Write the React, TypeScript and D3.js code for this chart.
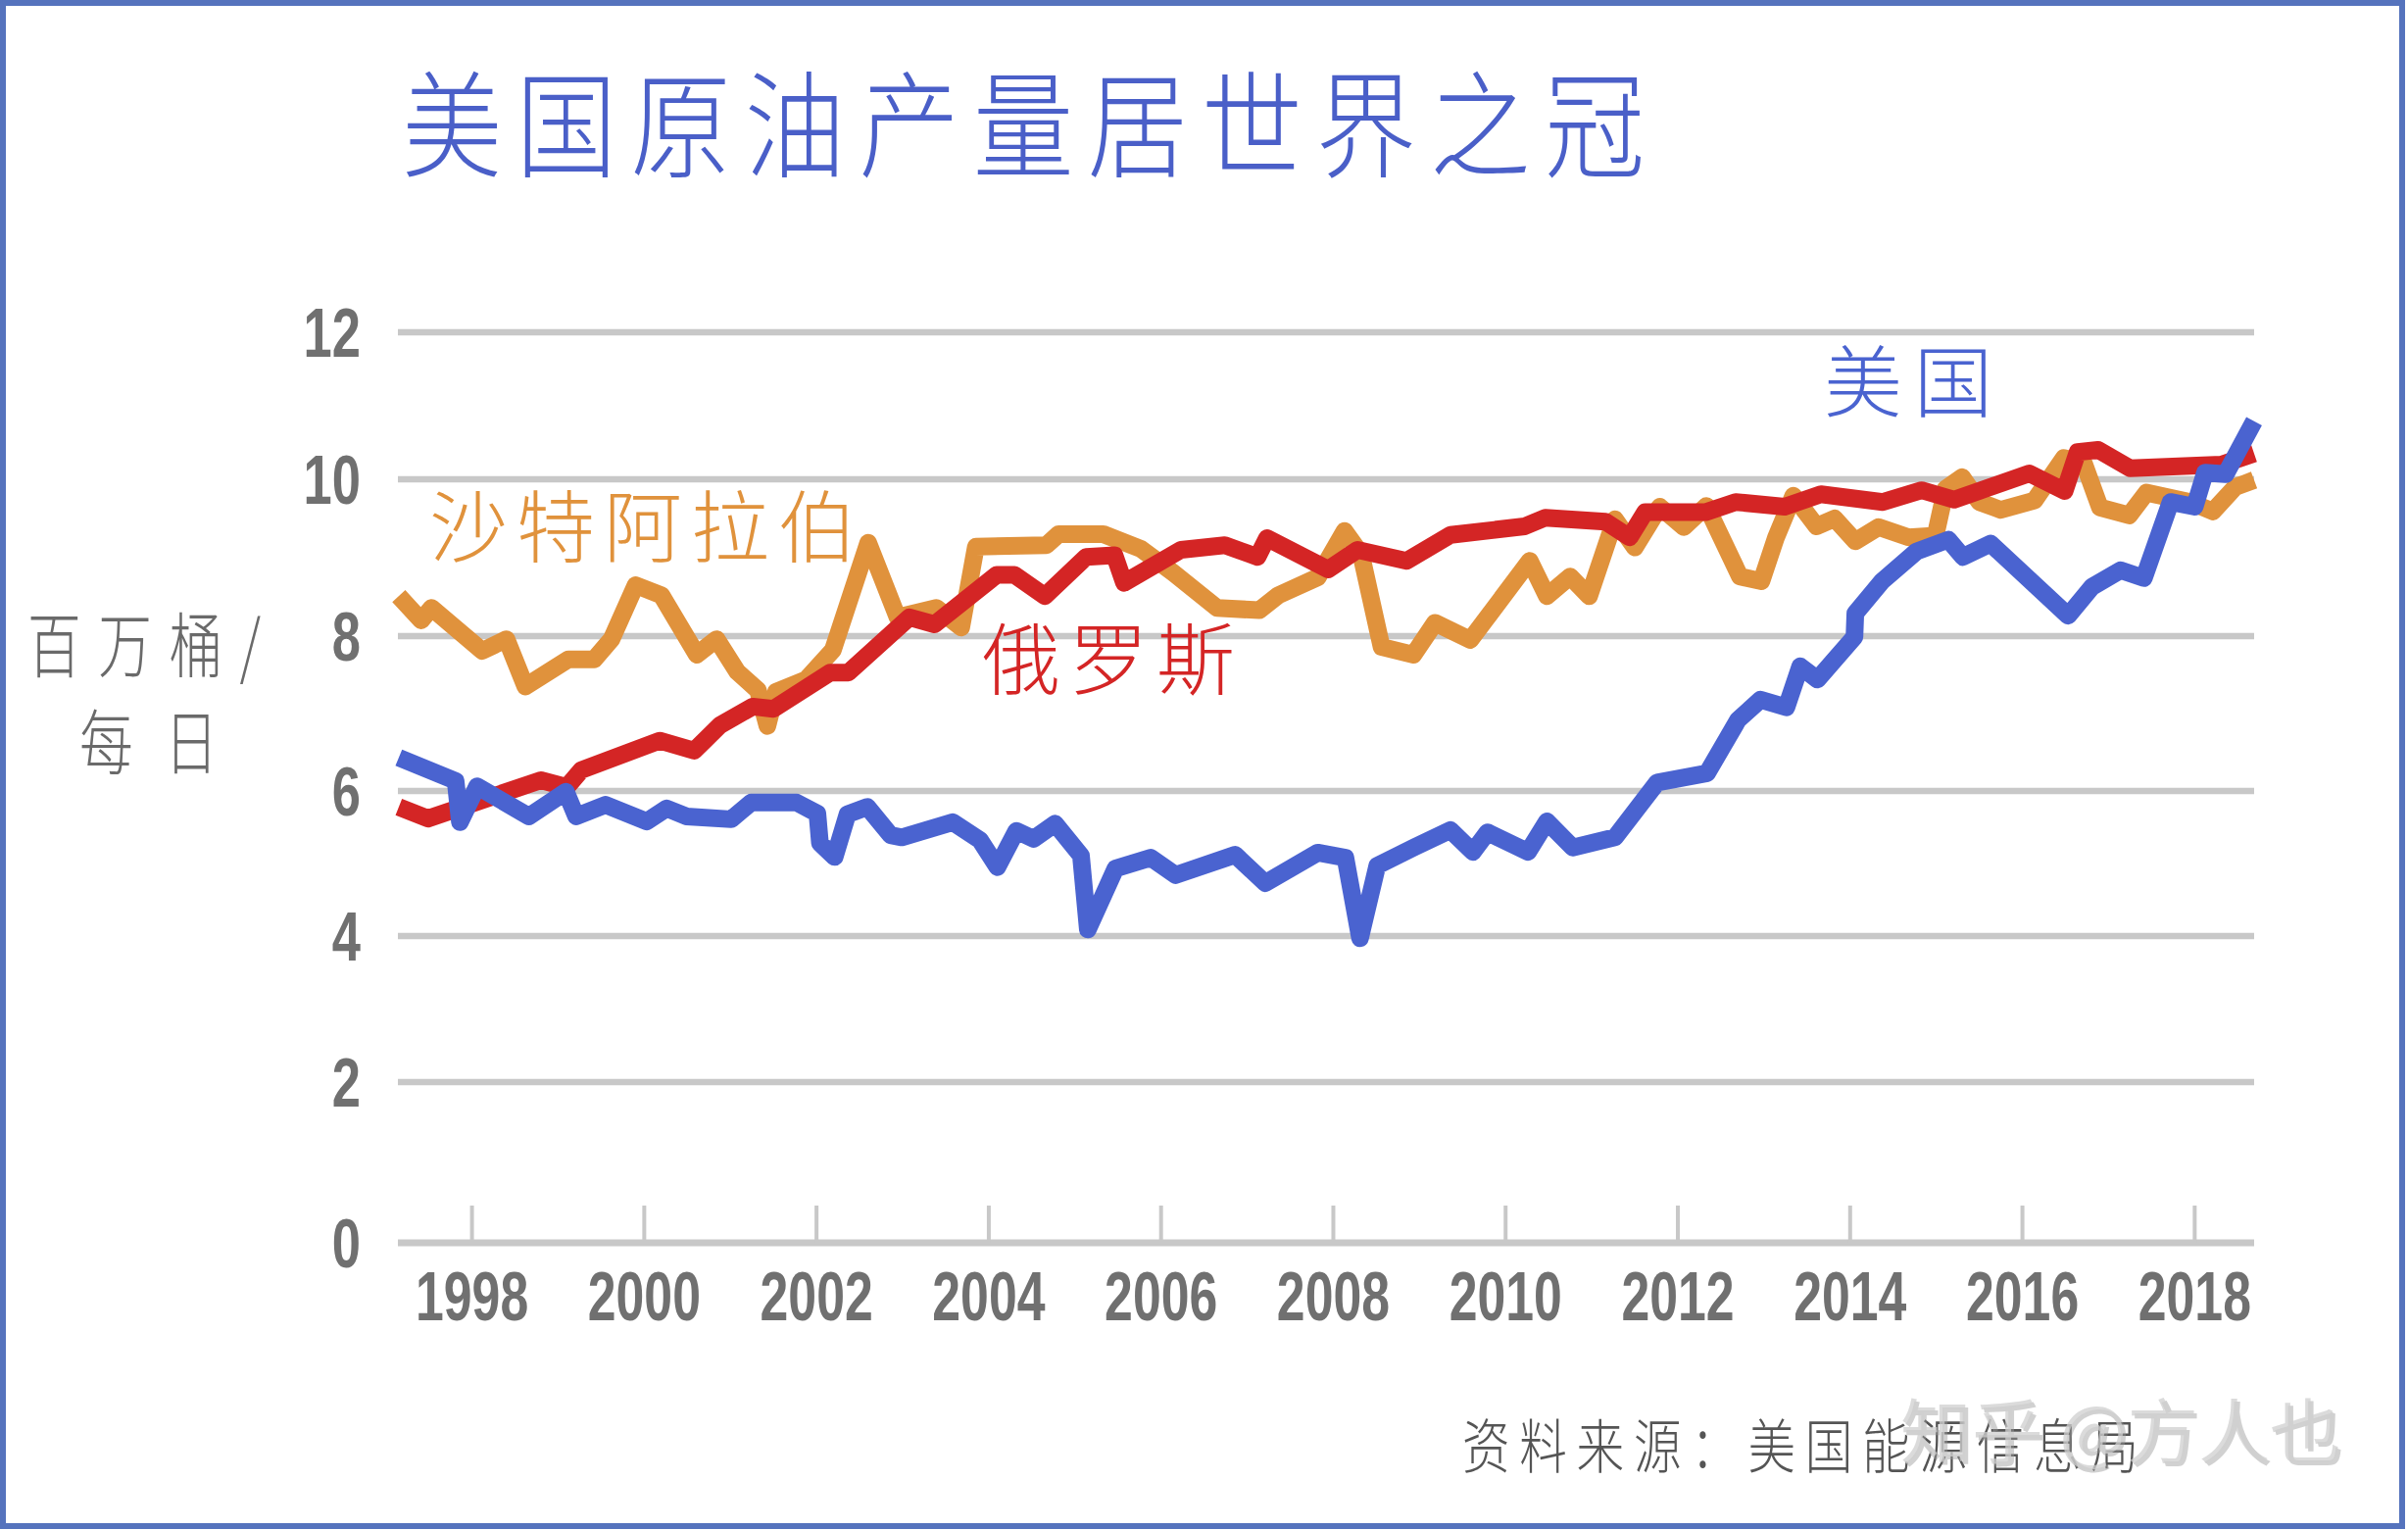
import React from 'react';
import * as d3 from 'd3';

// ---------- data (million barrels per day) ----------
const saudi: [number, number][] = [
  [1997.15, 8.51], [1997.41, 8.2], [1997.53, 8.36], [1998.12, 7.81], [1998.4, 7.96], [1998.62, 7.35],
  [1999.12, 7.7], [1999.42, 7.7], [1999.62, 7.96], [1999.9, 8.65], [2000.2, 8.52], [2000.61, 7.76],
  [2000.84, 7.96], [2001.08, 7.54], [2001.32, 7.3], [2001.43, 6.84], [2001.53, 7.28], [2001.88, 7.44],
  [2002.19, 7.82], [2002.6, 9.19], [2002.94, 8.24], [2003.39, 8.36], [2003.68, 8.11], [2003.85, 9.14],
  [2004.67, 9.16], [2004.81, 9.3], [2005.33, 9.3], [2005.77, 9.11], [2006.14, 8.81], [2006.65, 8.36],
  [2007.14, 8.33], [2007.36, 8.52], [2007.82, 8.75], [2008.13, 9.34], [2008.32, 9.05], [2008.56, 7.86],
  [2008.93, 7.76], [2009.18, 8.17], [2009.59, 7.95], [2010.28, 8.96], [2010.48, 8.51], [2010.75, 8.76],
  [2010.97, 8.51], [2011.27, 9.49], [2011.5, 9.13], [2011.79, 9.65], [2012.07, 9.39], [2012.33, 9.66],
  [2012.72, 8.76], [2012.97, 8.7], [2013.14, 9.26], [2013.34, 9.79], [2013.61, 9.4], [2013.82, 9.5],
  [2014.06, 9.21], [2014.33, 9.39], [2014.68, 9.26], [2014.99, 9.28], [2015.11, 9.88], [2015.3, 10.03],
  [2015.5, 9.71], [2015.75, 9.61], [2016.14, 9.73], [2016.48, 10.29], [2016.71, 10.23], [2016.9, 9.64],
  [2017.24, 9.54], [2017.44, 9.83], [2017.95, 9.71], [2018.21, 9.59], [2018.47, 9.9], [2018.69, 9.99],
];

const russia: [number, number][] = [
  [1997.15, 5.78], [1997.49, 5.62], [1998.8, 6.14], [1999.1, 6.05], [1999.27, 6.27], [2000.18, 6.65],
  [2000.58, 6.52], [2000.88, 6.85], [2001.26, 7.09], [2001.5, 7.06], [2002.16, 7.53], [2002.37, 7.53],
  [2003.08, 8.24], [2003.37, 8.15], [2004.09, 8.78], [2004.3, 8.78], [2004.65, 8.51], [2005.13, 9.01],
  [2005.46, 9.03], [2005.57, 8.68], [2006.23, 9.1], [2006.74, 9.16], [2007.12, 9.01], [2007.23, 9.25],
  [2007.94, 8.85], [2008.28, 9.1], [2008.85, 8.96], [2009.36, 9.29], [2010.22, 9.4], [2010.46, 9.51],
  [2011.16, 9.46], [2011.44, 9.26], [2011.62, 9.58], [2012.32, 9.58], [2012.67, 9.71], [2013.24, 9.65],
  [2013.66, 9.81], [2014.38, 9.71], [2014.83, 9.86], [2015.21, 9.74], [2016.08, 10.08], [2016.49, 9.85],
  [2016.64, 10.37], [2016.88, 10.4], [2017.25, 10.15], [2018.31, 10.2], [2018.69, 10.35],
];

const usa: [number, number][] = [
  [1997.15, 6.43], [1997.81, 6.13], [1997.86, 5.57], [1998.06, 6.06], [1998.66, 5.65], [1999.09, 5.99],
  [1999.21, 5.65], [1999.55, 5.81], [2000.03, 5.58], [2000.26, 5.76], [2000.49, 5.65], [2001.01, 5.61],
  [2001.24, 5.84], [2001.77, 5.84], [2002.01, 5.69], [2002.04, 5.28], [2002.21, 5.09], [2002.36, 5.68],
  [2002.59, 5.78], [2002.86, 5.39], [2002.99, 5.36], [2003.58, 5.57], [2003.9, 5.32], [2004.1, 4.95],
  [2004.32, 5.45], [2004.52, 5.34], [2004.77, 5.55], [2005.07, 5.11], [2005.15, 4.09], [2005.47, 4.93],
  [2005.88, 5.08], [2006.17, 4.84], [2006.86, 5.12], [2007.21, 4.73], [2007.82, 5.15], [2008.14, 5.08],
  [2008.31, 3.97], [2008.51, 4.97], [2008.95, 5.23], [2009.36, 5.46], [2009.62, 5.16], [2009.79, 5.43],
  [2010.26, 5.16], [2010.48, 5.58], [2010.78, 5.22], [2011.27, 5.36], [2011.76, 6.11], [2012.34, 6.23],
  [2012.7, 6.92], [2012.96, 7.18], [2013.26, 7.08], [2013.42, 7.61], [2013.62, 7.44], [2014.05, 7.99],
  [2014.06, 8.29], [2014.37, 8.7], [2014.77, 9.08], [2015.14, 9.23], [2015.31, 9.01], [2015.63, 9.18],
  [2016.53, 8.26], [2016.81, 8.63], [2017.14, 8.84], [2017.41, 8.74], [2017.72, 9.71], [2018.0, 9.65],
  [2018.12, 10.09], [2018.36, 10.07], [2018.69, 10.79],
];

const yTicks = [0, 2, 4, 6, 8, 10, 12];
const xTicks = [1998, 2000, 2002, 2004, 2006, 2008, 2010, 2012, 2014, 2016, 2018];
const xDomain: [number, number] = [1997.14, 2018.69];

const titleText = '美国原油产量居世界之冠';
const yTitleLines = ['百万桶/', '每日'];
const labelSaudi = '沙特阿拉伯';
const labelRussia = '俄罗斯';
const labelUSA = '美国';
const sourceText = '资料来源：美国能源信息局';
const watermark = '知乎 @方人也';

const COLORS = {
  saudi: '#e0923c',
  russia: '#d42525',
  usa: '#4a63d0',
  grid: '#c8c8c8',
  tick: '#707070',
  title: '#4a5fc8',
  border: '#5573bd',
};

const CJK = '"Noto Sans CJK SC", "Noto Sans CJK JP", sans-serif';
const NUM = '"Liberation Sans", Arial, "DejaVu Sans", sans-serif';

export default function App() {
  const W = 2457;
  const H = 1561;

  const x = d3.scaleLinear().domain(xDomain).range([406, 2300]);
  const y = d3.scaleLinear().domain(yTicks).range([1268, 1104, 955, 807, 649, 489, 339]);

  const line = d3
    .line<[number, number]>()
    .x((d) => x(d[0]))
    .y((d) => y(d[1]));

  const series = [
    { data: saudi, color: COLORS.saudi },
    { data: russia, color: COLORS.russia },
    { data: usa, color: COLORS.usa },
  ];

  return (
    <svg
      width={W}
      height={H}
      viewBox={`0 0 ${W} ${H}`}
      style={{ position: 'absolute', left: 0, top: 0, display: 'block' }}
    >
      <rect x={0} y={0} width={W} height={H} fill="#ffffff" />

      {/* title */}
      <text
        transform="translate(410,172) scale(0.87,1)"
        fontFamily={CJK}
        fontWeight={300}
        fontSize={118}
        fill={COLORS.title}
        style={{ letterSpacing: '16px' }}
      >
        {titleText}
      </text>

      {/* gridlines */}
      {yTicks.filter((t) => t !== 0).map((t) => (
        <line key={t} x1={x.range()[0]} x2={x.range()[1]} y1={y(t)} y2={y(t)} stroke={COLORS.grid} strokeWidth={6.5} />
      ))}
      {/* x axis */}
      <line x1={x.range()[0]} x2={x.range()[1]} y1={y(0)} y2={y(0)} stroke={COLORS.grid} strokeWidth={7} />
      {xTicks.map((t) => (
        <line key={t} x1={x(t)} x2={x(t)} y1={y(0) - 38} y2={y(0)} stroke={COLORS.grid} strokeWidth={4} />
      ))}

      {/* y tick labels */}
      {yTicks.map((t) => (
        <text
          key={t}
          transform={`translate(368,${y(t) + 25}) scale(0.75,1)`}
          textAnchor="end"
          fontFamily={NUM}
          fontWeight="bold"
          fontSize={70}
          fill={COLORS.tick}
        >
          {t}
        </text>
      ))}

      {/* x tick labels */}
      {xTicks.map((t) => (
        <text
          key={t}
          transform={`translate(${x(t)},1347) scale(0.74,1)`}
          textAnchor="middle"
          fontFamily={NUM}
          fontWeight="bold"
          fontSize={70}
          fill={COLORS.tick}
        >
          {t}
        </text>
      ))}

      {/* y axis title */}
      <text
        transform="translate(28,685) scale(0.76,1)"
        fontFamily={CJK}
        fontWeight={300}
        fontSize={72}
        fill="#6a6a6a"
        style={{ letterSpacing: '23px' }}
      >
        {yTitleLines[0]}
      </text>
      <text
        transform="translate(81,784) scale(0.76,1)"
        fontFamily={CJK}
        fontWeight={300}
        fontSize={72}
        fill="#6a6a6a"
        style={{ letterSpacing: '42px' }}
      >
        {yTitleLines[1]}
      </text>

      {/* series */}
      {series.map((s, i) => (
        <path
          key={i}
          d={line(s.data) || ''}
          fill="none"
          stroke={s.color}
          strokeWidth={18}
          strokeLinejoin="round"
          strokeLinecap="butt"
        />
      ))}

      {/* series labels */}
      <text x={438} y={567} fontFamily={CJK} fontWeight={300} fontSize={80} fill={COLORS.saudi} style={{ letterSpacing: '9px' }}>
        {labelSaudi}
      </text>
      <text x={1002} y={702} fontFamily={CJK} fontWeight={300} fontSize={80} fill={COLORS.russia} style={{ letterSpacing: '9px' }}>
        {labelRussia}
      </text>
      <text x={1861} y={419} fontFamily={CJK} fontWeight={300} fontSize={80} fill={COLORS.usa} style={{ letterSpacing: '12px' }}>
        {labelUSA}
      </text>

      {/* source */}
      <text
        transform="translate(1492,1498) scale(0.81,1)"
        fontFamily={CJK}
        fontWeight={300}
        fontSize={60}
        fill="#555555"
        style={{ letterSpacing: '12px' }}
      >
        {sourceText}
      </text>

      {/* watermark */}
      <text
        x={1942}
        y={1490}
        fontFamily={CJK}
        fontSize={72}
        fill="#9a9a9a"
        opacity={0.45}
        textLength={450}
        lengthAdjust="spacingAndGlyphs"
      >
        {watermark}
      </text>
      <text
        x={1939}
        y={1487}
        fontFamily={CJK}
        fontSize={72}
        fill="#d0d0d0"
        opacity={0.75}
        textLength={450}
        lengthAdjust="spacingAndGlyphs"
      >
        {watermark}
      </text>

      {/* frame */}
      <rect x={3} y={3} width={2448} height={1554} fill="none" stroke={COLORS.border} strokeWidth={6} />
    </svg>
  );
}
